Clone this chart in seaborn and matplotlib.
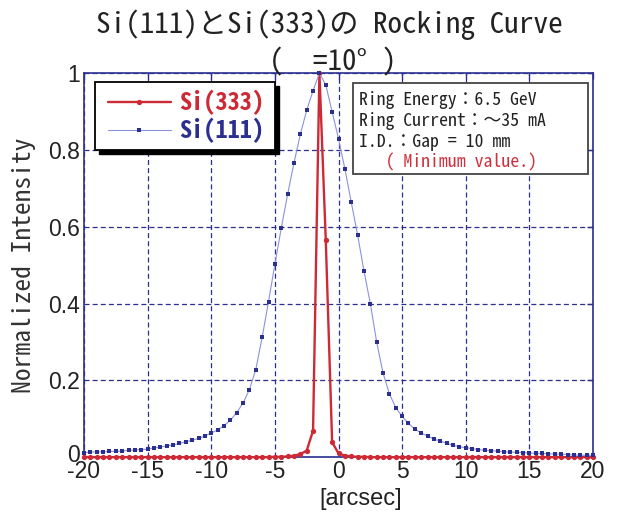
import numpy as np
import pandas as pd
import matplotlib
matplotlib.use("Agg")
import matplotlib.pyplot as plt
import matplotlib.transforms as mtransforms
from matplotlib.patches import Rectangle
import seaborn as sns

# ---------------- data ----------------
x_arcsec = [-20.0, -19.5, -19.0, -18.5, -18.0, -17.5, -17.0, -16.5, -16.0, -15.5,
            -15.0, -14.5, -14.0, -13.5, -13.0, -12.5, -12.0, -11.5, -11.0, -10.5,
            -10.0, -9.5, -9.0, -8.5, -8.0, -7.5, -7.0, -6.5, -6.0, -5.5,
            -5.0, -4.5, -4.0, -3.5, -3.0, -2.5, -2.0, -1.5, -1.0, -0.5,
            0.0, 0.5, 1.0, 1.5, 2.0, 2.5, 3.0, 3.5, 4.0, 4.5,
            5.0, 5.5, 6.0, 6.5, 7.0, 7.5, 8.0, 8.5, 9.0, 9.5,
            10.0, 10.5, 11.0, 11.5, 12.0, 12.5, 13.0, 13.5, 14.0, 14.5,
            15.0, 15.5, 16.0, 16.5, 17.0, 17.5, 18.0, 18.5, 19.0, 19.5, 20.0]

si111 = [0.012, 0.013, 0.014, 0.014, 0.015, 0.015, 0.016, 0.018, 0.019, 0.020,
         0.021, 0.024, 0.027, 0.029, 0.032, 0.036, 0.040, 0.044, 0.049, 0.055,
         0.063, 0.071, 0.082, 0.096, 0.116, 0.141, 0.176, 0.228, 0.312, 0.405,
         0.502, 0.596, 0.684, 0.766, 0.840, 0.903, 0.954, 1.000, 0.969, 0.899,
         0.829, 0.751, 0.664, 0.579, 0.485, 0.400, 0.300, 0.219, 0.165, 0.129,
         0.106, 0.088, 0.073, 0.063, 0.055, 0.047, 0.042, 0.036, 0.031, 0.027,
         0.025, 0.022, 0.020, 0.018, 0.017, 0.016, 0.014, 0.013, 0.013, 0.012,
         0.011, 0.010, 0.010, 0.009, 0.008, 0.008, 0.007, 0.006, 0.005, 0.005, 0.005]

si333 = [0.0, 0.0, 0.0, 0.0, 0.0, 0.0, 0.0, 0.0, 0.0, 0.0,
         0.0, 0.0, 0.0, 0.0, 0.0, 0.0, 0.0, 0.0, 0.0, 0.0,
         0.0, 0.0, 0.0, 0.0, 0.0, 0.0, 0.0, 0.0, 0.0, 0.0,
         0.001, 0.001, 0.002, 0.004, 0.008, 0.017, 0.069, 1.000, 0.565, 0.039,
         0.010, 0.004, 0.002, 0.001, 0.001, 0.0, 0.0, 0.0, 0.0, 0.0,
         0.0, 0.0, 0.0, 0.0, 0.0, 0.0, 0.0, 0.0, 0.0, 0.0,
         0.0, 0.0, 0.0, 0.0, 0.0, 0.0, 0.0, 0.0, 0.0, 0.0,
         0.0, 0.0, 0.0, 0.0, 0.0, 0.0, 0.0, 0.0, 0.0, 0.0, 0.0]

series_labels = ["Si(333)", "Si(111)"]
xticks = [-20, -15, -10, -5, 0, 5, 10, 15, 20]
xtick_labels = ["-20", "-15", "-10", "-5", "0", "5", "10", "15", "20"]
yticks = [0, 0.2, 0.4, 0.6, 0.8, 1.0]
ytick_labels = ["0", "0.2", "0.4", "0.6", "0.8", "1"]

title_line1 = "Si(111)とSi(333)の Rocking Curve"
title_line2 = "(  =10° )"
info_lines = ["Ring Energy：6.5 GeV", "Ring Current：～35 mA", "I.D.：Gap = 10 mm"]
info_note = "   ( Minimum value.)"
xlabel = "[arcsec]"
ylabel = "Normalized Intensity"

# ---------------- style ----------------
sns.set_style("white")
MONO = ["Noto Sans Mono CJK JP", "Noto Sans CJK JP", "DejaVu Sans Mono"]
SANS = ["Liberation Sans", "DejaVu Sans"]
plt.rcParams["font.family"] = SANS

NAVY = "#2b2f90"
RED = "#cd2a36"
BLUE_LINE = "#8d92dc"
TXT = "#222222"

W, H = 619, 512
fig = plt.figure(figsize=(W / 100, H / 100), dpi=100)
fig.patch.set_facecolor("white")
AX_L, AX_R, AX_T, AX_B = 84, 593, 73, 457.2
ax = fig.add_axes([AX_L / W, 1 - AX_B / H, (AX_R - AX_L) / W, (AX_B - AX_T) / H])
ax.set_facecolor("white")

# pixel transform (x from left, y from top)
px = mtransforms.Affine2D().scale(1, -1).translate(0, H)

df = pd.DataFrame({"x": x_arcsec, series_labels[0]: si333, series_labels[1]: si111})

sns.lineplot(data=df, x="x", y=series_labels[0], ax=ax, color=RED, linewidth=1.7,
             marker="o", markersize=3.8, markeredgewidth=0, markerfacecolor=RED,
             label=series_labels[0], clip_on=False, zorder=3)
sns.lineplot(data=df, x="x", y=series_labels[1], ax=ax, color=BLUE_LINE, linewidth=0.8,
             marker="s", markersize=2.4, markeredgewidth=0, markerfacecolor=NAVY,
             label=series_labels[1], clip_on=False, zorder=4)

ax.set_xlim(-20, 20)
ax.set_ylim(0, 1)
ax.set_xticks(xticks)
ax.set_xticklabels(xtick_labels)
ax.set_yticks(yticks)
ax.set_yticklabels(ytick_labels)
ax.set_xlabel("")
ax.set_ylabel("")
ax.tick_params(direction="in", length=4, width=1, color=NAVY, top=True, right=True,
               labelsize=16.5, labelcolor=TXT)
ax.tick_params(axis="x", pad=2)
ax.tick_params(axis="y", pad=3)
# lift the "0" y label a little (as in the original, it sits just above the x labels)
lab0 = ax.yaxis.get_major_ticks()[0].label1
lab0.set_transform(lab0.get_transform() +
                   mtransforms.ScaledTranslation(0, 4 / 100, fig.dpi_scale_trans))
for s in ax.spines.values():
    s.set_color(NAVY)
    s.set_linewidth(1.2)
    s.set_visible(True)
ax.grid(True, color=NAVY, linewidth=0.9, linestyle=(0, (4, 2.5)))
ax.set_axisbelow(True)

# legend box with shadow
ax.add_patch(Rectangle((99, 85.7), 180, 68.3, transform=px, facecolor="black",
                       edgecolor="black", clip_on=False, zorder=5))
ax.add_patch(Rectangle((95, 81.7), 180, 68.3, transform=px, facecolor="white",
                       edgecolor="black", linewidth=1.3, clip_on=False, zorder=6))
handles, _ = ax.get_legend_handles_labels()
leg = ax.legend(handles, series_labels, loc="upper left", bbox_to_anchor=(108, 90),
                bbox_transform=px, frameon=False, borderpad=0, borderaxespad=0,
                handlelength=2.58, handletextpad=0.34, labelspacing=0.12,
                prop={"family": MONO, "weight": "bold", "size": 17.5},
                labelcolor=[RED, NAVY])
leg.set_zorder(7)

# info box
ax.add_patch(Rectangle((352.7, 83.3), 235.3, 91, transform=px, facecolor="white",
                       edgecolor="#444444", linewidth=1.3, clip_on=False, zorder=6))
for i, line in enumerate(info_lines):
    ax.text(359.3, 104.6 + 21 * i, line, transform=px, family=MONO, fontsize=12.8,
            color=TXT, ha="left", va="baseline", zorder=8, clip_on=False)
ax.text(359.3, 104.6 + 21 * 3, info_note, transform=px, family=MONO, fontsize=12.8,
        color="#d0303c", ha="left", va="baseline", zorder=8, clip_on=False)

# titles and axis labels
fig.text(329, 33, title_line1, transform=px, family=MONO, fontsize=21, color=TXT,
         ha="center", va="baseline")
fig.text(333, 70, title_line2, transform=px, family=MONO, fontsize=21, color=TXT,
         ha="center", va="baseline")
fig.text(24, 265, ylabel, transform=px, family=MONO, fontsize=18.4, color="#333333",
         ha="center", va="center", rotation=90)
fig.text(361, 499, xlabel, transform=px, family=SANS, fontsize=17, color=TXT,
         ha="center", va="center")

fig.savefig("out.png", dpi=100)
